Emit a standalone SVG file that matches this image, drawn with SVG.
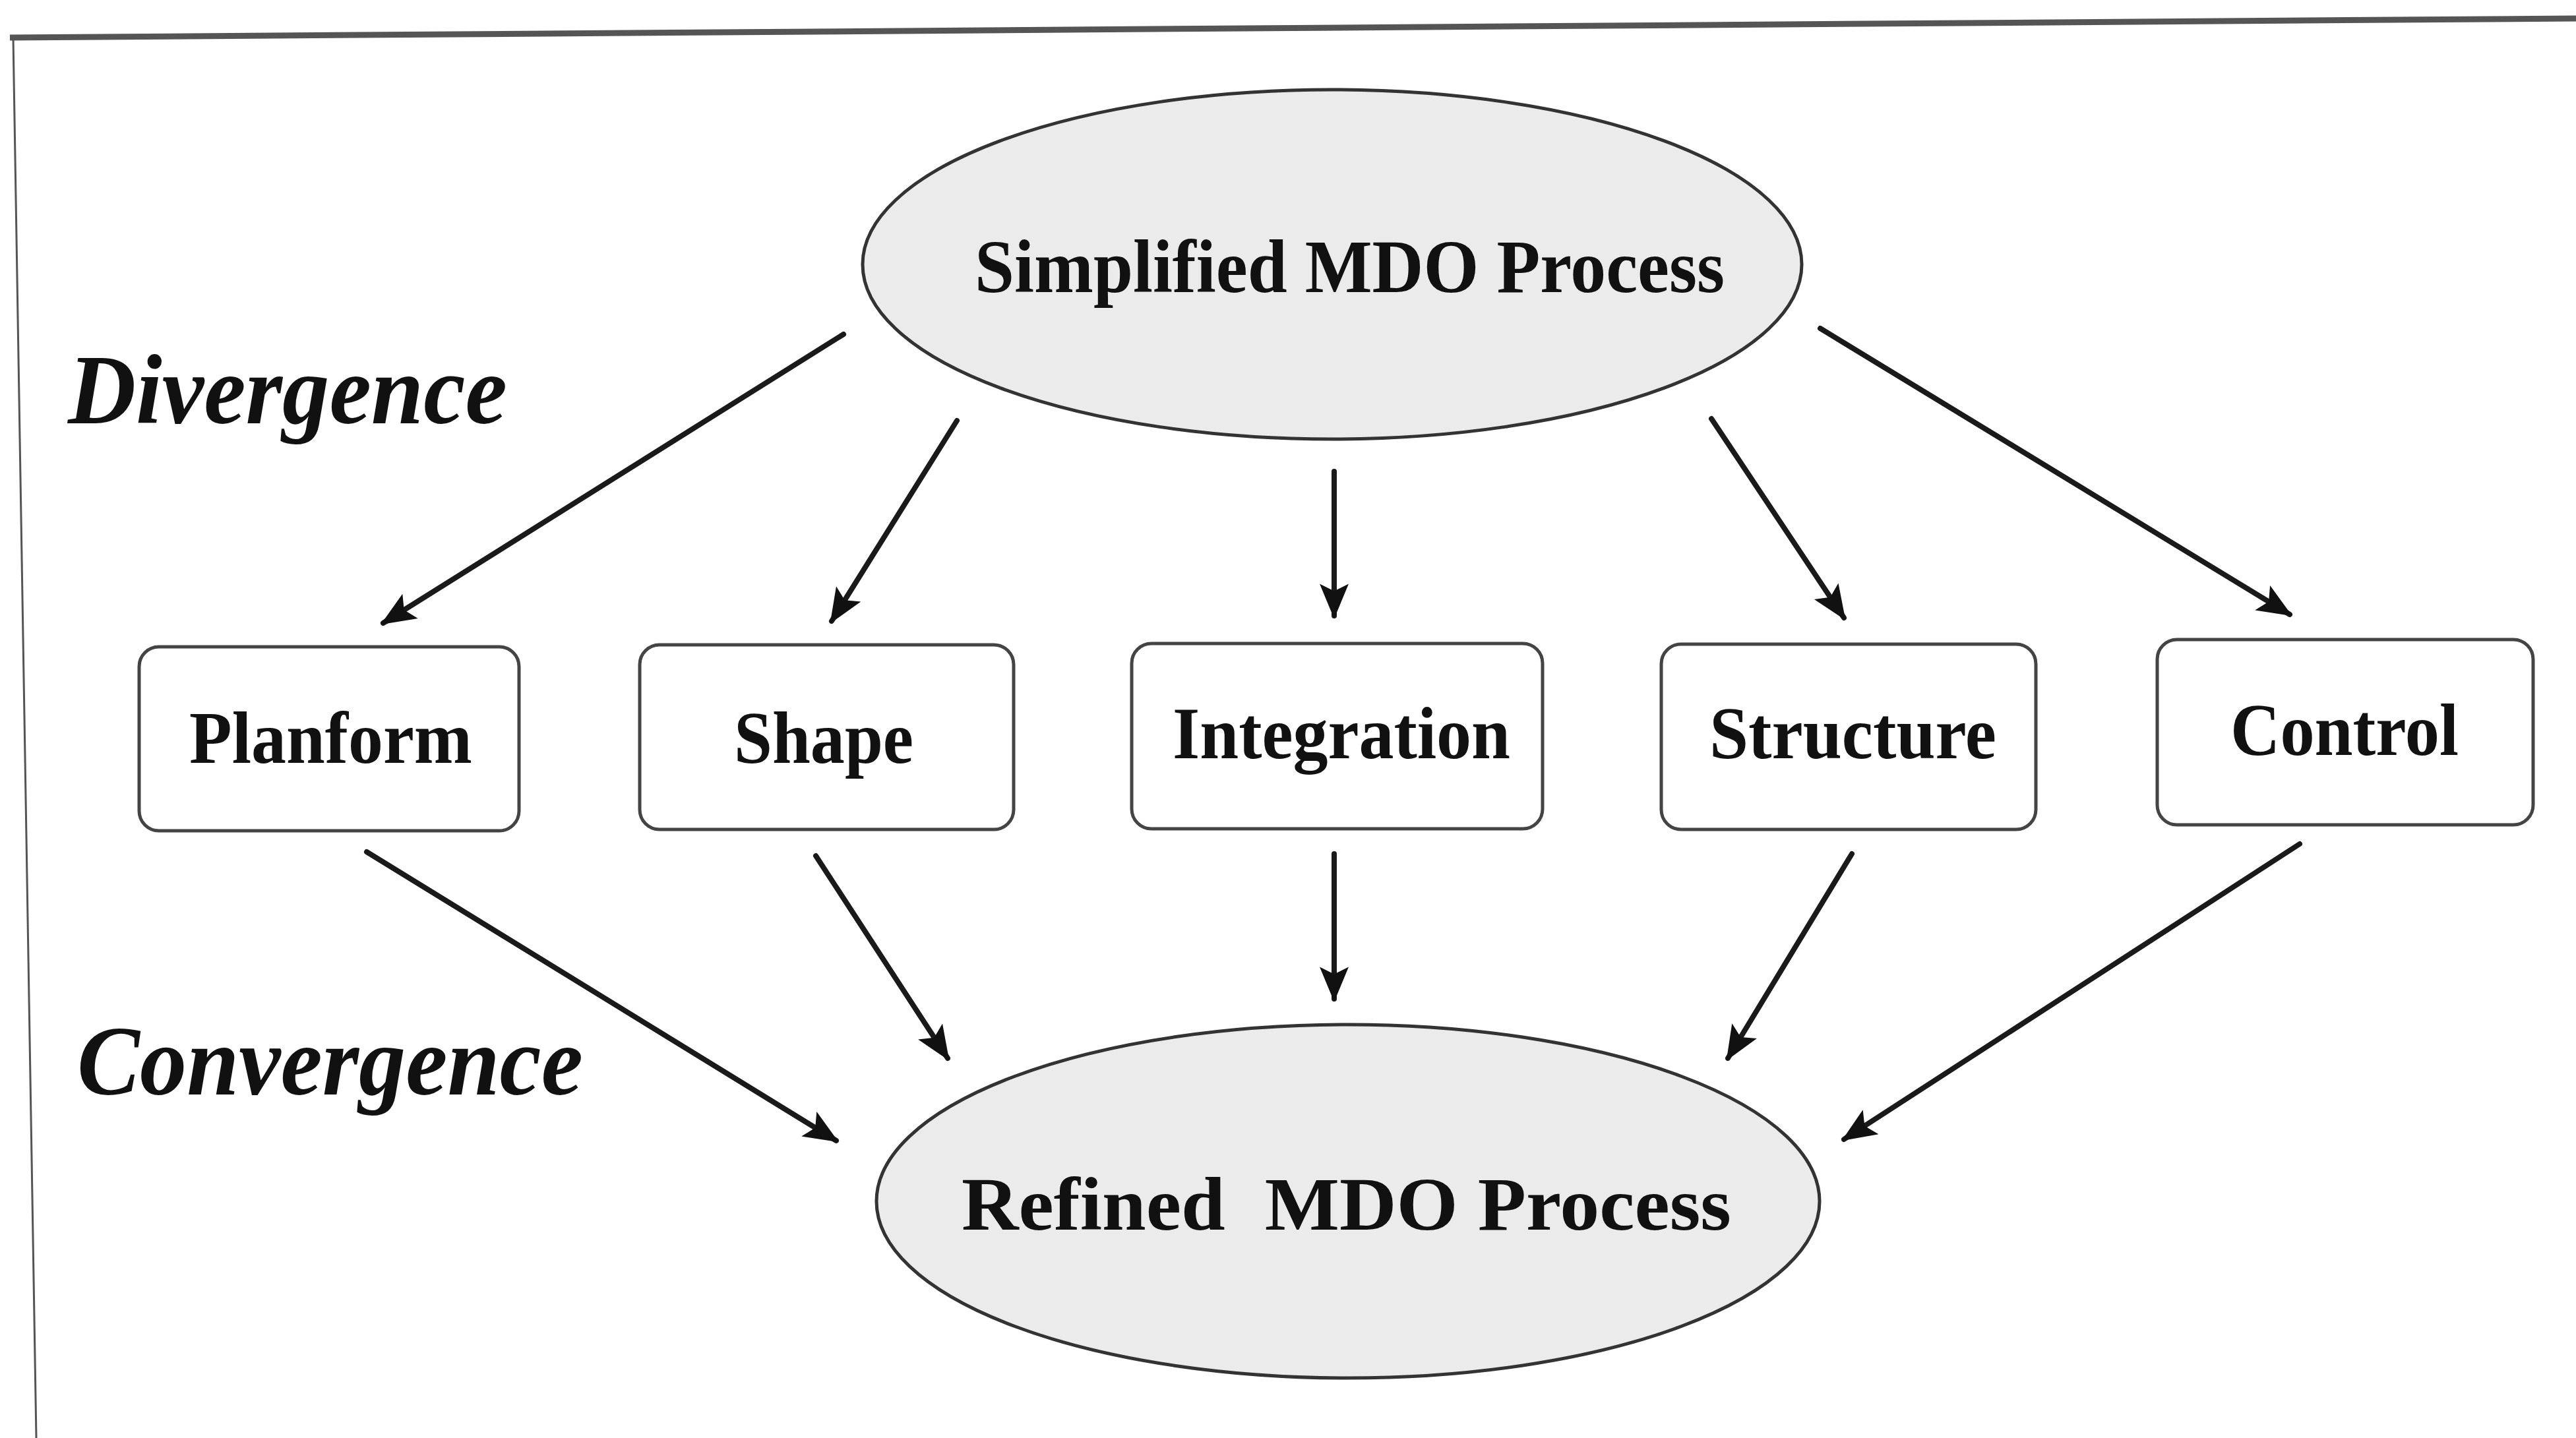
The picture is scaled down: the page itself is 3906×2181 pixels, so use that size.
<svg xmlns="http://www.w3.org/2000/svg" width="3906" height="2181" viewBox="0 0 3906 2181">
  <style>
    .lbl { font-family: "Liberation Serif", "Times New Roman", serif; font-weight: bold; fill: #111; }
    .phase { font-family: "Liberation Serif", "Times New Roman", serif; font-weight: bold; font-style: italic; font-size: 150px; fill: #111; }
    .oval { fill: #ebebeb; stroke: #333; stroke-width: 5; }
    .box { fill: #ffffff; stroke: #444; stroke-width: 5; }
    .edge { fill: none; stroke: #1a1a1a; stroke-width: 8; stroke-linecap: round; }
    .frame { fill: none; stroke: #555; }
  </style>
  <defs>
    <marker id="head" viewBox="0 0 12 10" refX="11" refY="5" markerWidth="7.5" markerHeight="5.5" markerUnits="strokeWidth" orient="auto">
      <path d="M0,0 L12,5 L0,10 L2.5,5 Z" fill="#111"/>
    </marker>
  </defs>

  <rect x="0" y="0" width="3906" height="2181" fill="#ffffff"/>

  <!-- page frame: top rule and left rule -->
  <g id="frame">
    <path class="frame" d="M15,57 Q1950,42 3906,28" stroke-width="9"/>
    <line class="frame" x1="20" y1="57" x2="55" y2="2181" stroke-width="3"/>
  </g>

  <!-- phase labels -->
  <text class="phase" x="103" y="642" textLength="666" lengthAdjust="spacingAndGlyphs">Divergence</text>
  <text class="phase" x="117" y="1660" textLength="767" lengthAdjust="spacingAndGlyphs">Convergence</text>

  <!-- connectors -->
  <g id="connectors">
    <line class="edge" x1="1279" y1="507" x2="581" y2="945" marker-end="url(#head)"/>
    <line class="edge" x1="1451" y1="638" x2="1261" y2="942" marker-end="url(#head)"/>
    <line class="edge" x1="2023" y1="715" x2="2023" y2="934" marker-end="url(#head)"/>
    <line class="edge" x1="2595" y1="635" x2="2796" y2="937" marker-end="url(#head)"/>
    <line class="edge" x1="2760" y1="498" x2="3472" y2="932" marker-end="url(#head)"/>

    <line class="edge" x1="556" y1="1292" x2="1268" y2="1730" marker-end="url(#head)"/>
    <line class="edge" x1="1237" y1="1298" x2="1437" y2="1605" marker-end="url(#head)"/>
    <line class="edge" x1="2023" y1="1295" x2="2023" y2="1515" marker-end="url(#head)"/>
    <line class="edge" x1="2808" y1="1295" x2="2620" y2="1605" marker-end="url(#head)"/>
    <line class="edge" x1="3487" y1="1280" x2="2796" y2="1728" marker-end="url(#head)"/>
  </g>

  <g id="simplified">
    <ellipse class="oval" cx="2020" cy="401" rx="712" ry="265"/>
    <text class="lbl" x="1478" y="443" font-size="114" textLength="1137" lengthAdjust="spacingAndGlyphs">Simplified MDO Process</text>
  </g>

  <g id="planform">
    <rect class="box" x="211" y="981" width="576" height="279" rx="30"/>
    <text class="lbl" x="287" y="1157" font-size="112" textLength="429" lengthAdjust="spacingAndGlyphs">Planform</text>
  </g>

  <g id="shape">
    <rect class="box" x="970" y="978" width="567" height="280" rx="30"/>
    <text class="lbl" x="1113" y="1157" font-size="112" textLength="272" lengthAdjust="spacingAndGlyphs">Shape</text>
  </g>

  <g id="integration">
    <rect class="box" x="1716" y="976" width="623" height="281" rx="30"/>
    <text class="lbl" x="1778" y="1150" font-size="112" textLength="512" lengthAdjust="spacingAndGlyphs">Integration</text>
  </g>

  <g id="structure">
    <rect class="box" x="2519" y="977" width="568" height="281" rx="30"/>
    <text class="lbl" x="2592" y="1150" font-size="112" textLength="435" lengthAdjust="spacingAndGlyphs">Structure</text>
  </g>

  <g id="control">
    <rect class="box" x="3271" y="970" width="570" height="281" rx="30"/>
    <text class="lbl" x="3382" y="1145" font-size="112" textLength="346" lengthAdjust="spacingAndGlyphs">Control</text>
  </g>

  <g id="refined">
    <ellipse class="oval" cx="2044" cy="1822" rx="715" ry="268"/>
    <text class="lbl" x="1458" y="1865" font-size="114" style="white-space:pre" textLength="1167" lengthAdjust="spacingAndGlyphs">Refined  MDO Process</text>
  </g>
</svg>
